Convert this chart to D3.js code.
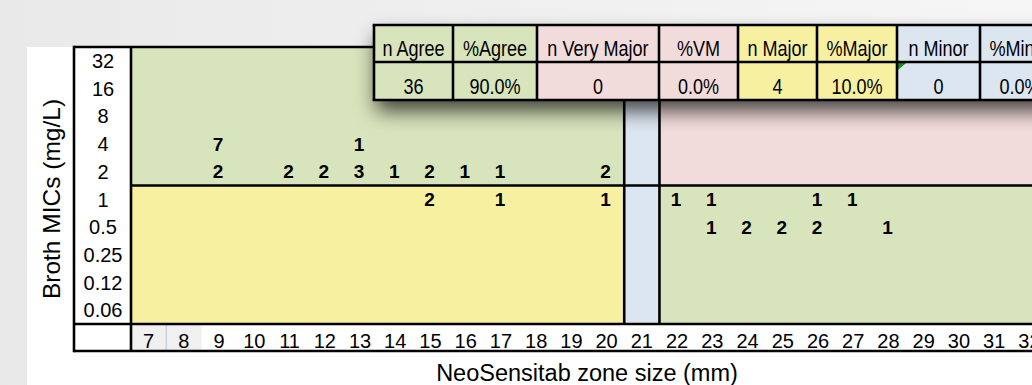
<!DOCTYPE html>
<html>
<head>
<meta charset="utf-8">
<script src="https://cdn.jsdelivr.net/npm/d3@7"></script>
<style>
  html, body { margin: 0; padding: 0; background: #ffffff; }
  svg { display: block; }
  text { font-family: "Liberation Sans", Arial, sans-serif; fill: #000; }
</style>
</head>
<body>
<svg id="chart" width="1032" height="385"></svg>
<script>
// Scattergram: NeoSensitab zone diameter vs broth MIC
const zoneLabels = [7, 8, 9, 10, 11, 12, 13, 14, 15, 16, 17, 18, 19, 20, 21, 22, 23, 24, 25, 26, 27, 28, 29, 30, 31, 32];
const micLabels = ["32", "16", "8", "4", "2", "1", "0.5", "0.25", "0.12", "0.06"];

// isolate counts per cell
const countZone = [9, 9, 11, 12, 13, 13, 14, 15, 15, 16, 17, 17, 20, 20, 22, 23, 23, 24, 25, 26, 26, 27, 28];
const countMic  = ["4", "2", "2", "2", "4", "2", "2", "2", "1", "2", "2", "1", "2", "1", "1", "1", "0.5", "0.5", "0.5", "1", "0.5", "1", "0.5"];
const countN    = [7, 2, 2, 2, 1, 3, 1, 2, 2, 1, 1, 1, 2, 1, 1, 1, 1, 2, 2, 1, 2, 1, 1];

// interpretive breakpoints
const micSusceptibleMax = "1";   // first MIC row of the susceptible band
const zoneIntermediate = 21;     // single intermediate zone column

// summary table
const summaryHeaders = ["n Agree", "%Agree", "n Very Major", "%VM", "n Major", "%Major", "n Minor", "%Minor"];
const summaryValues  = ["36", "90.0%", "0", "0.0%", "4", "10.0%", "0", "0.0%"];

// ---- layout & style ----
const W = 1032, H = 385;
const C = {
  green: "#d8e4bc", pink: "#f2dcdb", yellow: "#f6f0a0", blue: "#dce6f1",
  line: "#000000"
};
const summaryFill = [C.green, C.green, C.pink, C.pink, C.yellow, C.yellow, C.blue, C.blue];
const summaryColW = [79, 84, 122, 79, 79, 80, 83, 80];

const box = { left: 74, tickRight: 131, top: 47, plotBottom: 324, bottom: 351, right: 1047 };

const svg = d3.select("#chart");
const defs = svg.append("defs");

const bg = defs.append("linearGradient").attr("id", "bg").attr("x1", 0).attr("x2", 1).attr("y1", 0).attr("y2", 0);
bg.append("stop").attr("offset", 0).attr("stop-color", "#e9e9e9");
bg.append("stop").attr("offset", 1).attr("stop-color", "#f6f6f6");

const sh = defs.append("filter").attr("id", "shadow")
  .attr("x", -0.2).attr("y", -0.3).attr("width", 1.4).attr("height", 2.2);
sh.append("feDropShadow").attr("dx", 2).attr("dy", 11).attr("stdDeviation", 10)
  .attr("flood-color", "#000").attr("flood-opacity", 0.7);

svg.append("rect").attr("width", W).attr("height", H).attr("fill", "url(#bg)");
svg.append("rect").attr("x", 27).attr("y", box.top).attr("width", W - 27).attr("height", H - box.top).attr("fill", "#fff");

// scales
const x = d3.scaleBand().domain(zoneLabels).range([box.tickRight, box.right]).paddingInner(0).paddingOuter(0);
const y = d3.scaleBand().domain(micLabels).range([box.top, box.plotBottom]);

const xI0 = x(zoneIntermediate), xI1 = x(zoneIntermediate) + x.bandwidth();
const yS = y(micSusceptibleMax);

// interpretive regions
const regions = [
  { x0: box.tickRight, x1: xI0, y0: box.top, y1: yS, fill: C.green },        // R / R agree
  { x0: box.tickRight, x1: xI0, y0: yS, y1: box.plotBottom, fill: C.yellow }, // major error
  { x0: xI0, x1: xI1, y0: box.top, y1: box.plotBottom, fill: C.blue },        // intermediate
  { x0: xI1, x1: box.right, y0: box.top, y1: yS, fill: C.pink },              // very major
  { x0: xI1, x1: box.right, y0: yS, y1: box.plotBottom, fill: C.green }       // S / S agree
];
svg.append("g").selectAll("rect").data(regions).join("rect")
  .attr("x", d => d.x0).attr("y", d => d.y0)
  .attr("width", d => d.x1 - d.x0).attr("height", d => d.y1 - d.y0)
  .attr("fill", d => d.fill);

// zone-size label row
svg.append("rect").attr("x", box.left).attr("y", box.plotBottom)
  .attr("width", box.right - box.left).attr("height", box.bottom - box.plotBottom).attr("fill", "#fff");
svg.append("rect").attr("x", x(7)).attr("y", box.plotBottom)
  .attr("width", x.bandwidth() * 2).attr("height", box.bottom - box.plotBottom).attr("fill", "#f0f0f0");
svg.append("line").attr("x1", x(8)).attr("x2", x(8)).attr("y1", box.plotBottom).attr("y2", box.bottom)
  .attr("stroke", "#c6d3e6").attr("stroke-width", 1.5);

const xAxis = svg.append("g").attr("transform", `translate(0,${box.bottom - 3})`)
  .call(d3.axisBottom(x).tickSize(0).tickPadding(0));
xAxis.select(".domain").remove();
xAxis.selectAll("text").attr("y", 0).attr("dy", 0)
  .style("font-size", "20px").style("font-family", "Liberation Sans, Arial, sans-serif").attr("fill", "#000");

// MIC label column
svg.append("rect").attr("x", box.left).attr("y", box.top)
  .attr("width", box.tickRight - box.left).attr("height", box.plotBottom - box.top).attr("fill", "#fff");
const yAxis = svg.append("g").attr("transform", `translate(${(box.left + box.tickRight) / 2 + 0.5},0)`)
  .call(d3.axisLeft(y).tickSize(0).tickPadding(0));
yAxis.select(".domain").remove();
yAxis.selectAll("text").attr("x", 0).attr("dy", "0.36em").attr("text-anchor", "middle")
  .style("font-size", "20px").style("font-family", "Liberation Sans, Arial, sans-serif").attr("fill", "#000");

// counts
const counts = countN.map((n, i) => ({ zone: countZone[i], mic: countMic[i], n }));
svg.append("g").selectAll("text").data(counts).join("text")
  .attr("x", d => x(d.zone) + x.bandwidth() / 2 - 1)
  .attr("y", d => y(d.mic) + y.bandwidth() / 2)
  .attr("dy", "0.36em").attr("text-anchor", "middle")
  .style("font-size", "19px").style("font-weight", "bold")
  .text(d => d.n);

// grid borders
const lw = 2.6;
const lines = [
  [box.tickRight, yS, box.right, yS],
  [xI0, box.top, xI0, box.plotBottom],
  [xI1, box.top, xI1, box.plotBottom],
  [box.left, box.plotBottom, box.right, box.plotBottom],
  [box.tickRight, box.top, box.tickRight, box.bottom],
  [box.left, box.top, box.right, box.top],
  [box.left, box.bottom, box.right, box.bottom],
  [box.left, box.top - lw / 2, box.left, box.bottom + lw / 2]
];
svg.append("g").selectAll("line").data(lines).join("line")
  .attr("x1", d => d[0]).attr("y1", d => d[1]).attr("x2", d => d[2]).attr("y2", d => d[3])
  .attr("stroke", C.line).attr("stroke-width", lw);

// axis titles
svg.append("text").attr("x", 587).attr("y", 381).attr("text-anchor", "middle")
  .style("font-size", "23.5px").text("NeoSensitab zone size (mm)");
svg.append("text").attr("transform", "translate(60,199) rotate(-90)").attr("text-anchor", "middle")
  .style("font-size", "24.5px").text("Broth MICs (mg/L)");

// summary table
const tbl = { x: 374, top: 25, mid: 62, bottom: 100 };
const edges = [tbl.x];
summaryColW.forEach(w => edges.push(edges[edges.length - 1] + w));
const cols = summaryHeaders.map((h, i) => ({ h, v: summaryValues[i], fill: summaryFill[i], x0: edges[i], x1: edges[i + 1] }));

const tg = svg.append("g");
tg.append("rect").attr("x", tbl.x).attr("y", tbl.top)
  .attr("width", edges[edges.length - 1] - tbl.x).attr("height", tbl.bottom - tbl.top)
  .attr("fill", "#fff").attr("filter", "url(#shadow)");
tg.selectAll("rect.cell").data(cols).join("rect").attr("class", "cell")
  .attr("x", d => d.x0).attr("y", tbl.top).attr("width", d => d.x1 - d.x0).attr("height", tbl.bottom - tbl.top)
  .attr("fill", d => d.fill);

function narrow(sel) {
  sel.each(function () {
    const len = this.getComputedTextLength();
    d3.select(this).attr("textLength", len * 0.82).attr("lengthAdjust", "spacingAndGlyphs");
  });
}
tg.selectAll("text.h").data(cols).join("text").attr("class", "h")
  .attr("x", d => (d.x0 + d.x1) / 2).attr("y", (tbl.top + tbl.mid) / 2 + 5).attr("dy", "0.36em")
  .attr("text-anchor", "middle").style("font-size", "22px").text(d => d.h).call(narrow);
tg.selectAll("text.v").data(cols).join("text").attr("class", "v")
  .attr("x", d => (d.x0 + d.x1) / 2).attr("y", (tbl.mid + tbl.bottom) / 2 + 5).attr("dy", "0.36em")
  .attr("text-anchor", "middle").style("font-size", "22px").text(d => d.v).call(narrow);

// error-indicator triangle in the n Minor cell
const ci = summaryHeaders.indexOf("n Minor");
tg.append("path")
  .attr("d", `M${edges[ci] + 1},${tbl.mid + 1}h8l-8,7z`).attr("fill", "#1a8a1a");

const tLines = [[tbl.x, tbl.mid, edges[edges.length - 1], tbl.mid]];
edges.forEach(e => tLines.push([e, tbl.top, e, tbl.bottom]));
tLines.push([tbl.x - lw / 2, tbl.top, edges[edges.length - 1], tbl.top]);
tLines.push([tbl.x - lw / 2, tbl.bottom, edges[edges.length - 1], tbl.bottom]);
tg.selectAll("line").data(tLines).join("line")
  .attr("x1", d => d[0]).attr("y1", d => d[1]).attr("x2", d => d[2]).attr("y2", d => d[3])
  .attr("stroke", C.line).attr("stroke-width", lw);
</script>
</body>
</html>
